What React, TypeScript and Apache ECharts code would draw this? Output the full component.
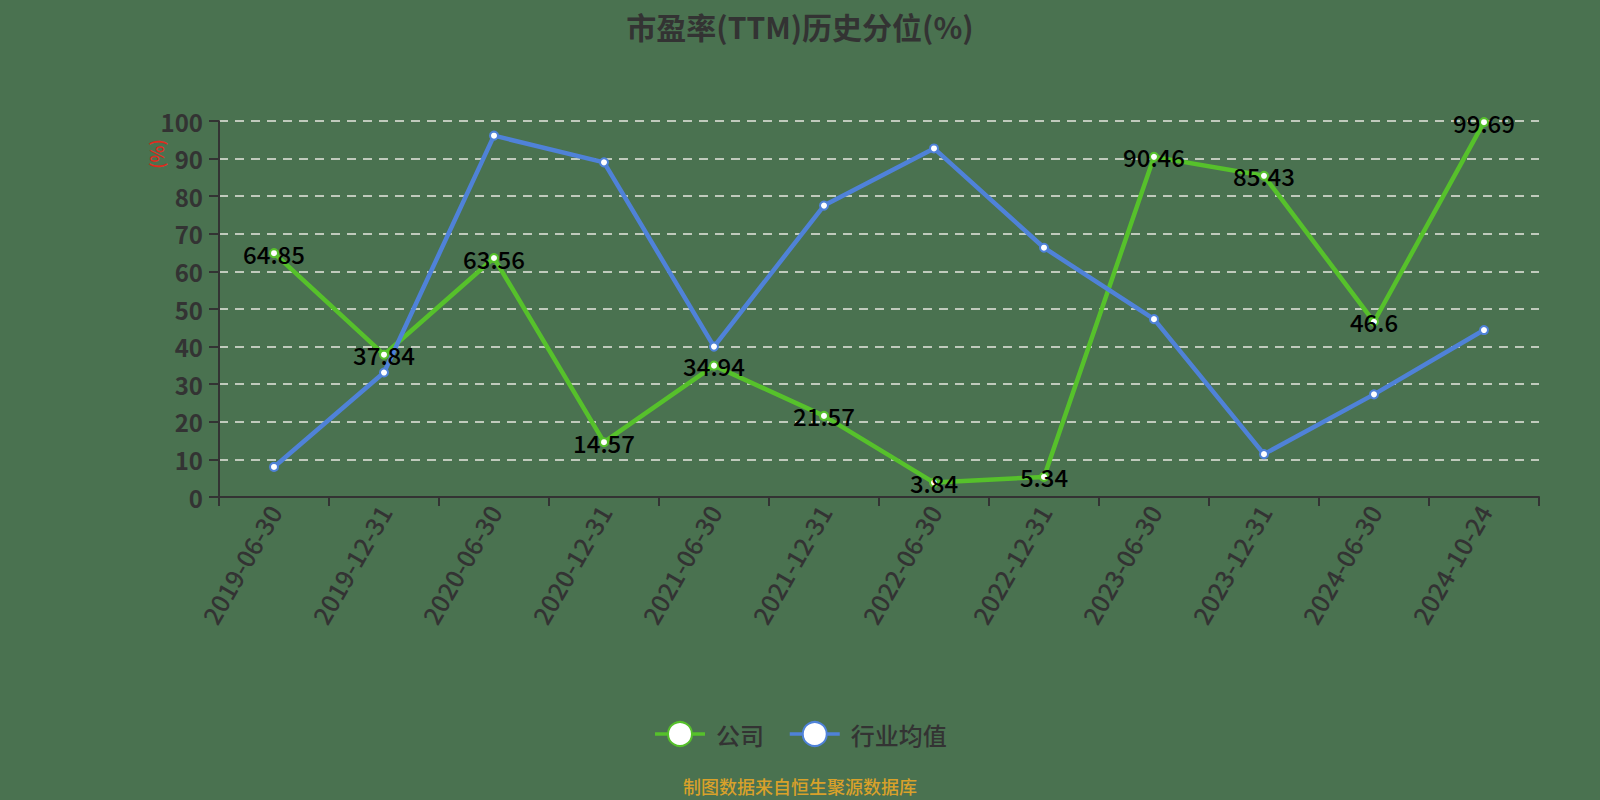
import { useEffect, useRef } from "react";
import * as echarts from "echarts";

const CATEGORIES = [
  "2019-06-30",
  "2019-12-31",
  "2020-06-30",
  "2020-12-31",
  "2021-06-30",
  "2021-12-31",
  "2022-06-30",
  "2022-12-31",
  "2023-06-30",
  "2023-12-31",
  "2024-06-30",
  "2024-10-24"
];

const COMPANY = [64.85, 37.84, 63.56, 14.57, 34.94, 21.57, 3.84, 5.34, 90.46, 85.43, 46.6, 99.69];
const INDUSTRY = [8.0, 33.1, 96.1, 89.0, 40.0, 77.5, 92.7, 66.3, 47.3, 11.4, 27.3, 44.4];

const SERIES_NAMES = ["公司", "行业均值"];
const TITLE = "市盈率(TTM)历史分位(%)";
const SOURCE = "制图数据来自恒生聚源数据库";
const Y_NAME = "(%)";

const BG = "#4a7250";
const GREEN = "#56c12b";
const BLUE = "#4f82d8";
const DARK = "#333333";
const FONT = "'Noto Sans CJK SC', 'Noto Sans', sans-serif";

function buildOption() {
  const line = (name: string, data: number[], color: string, withLabel: boolean) => ({
    name,
    type: "line",
    data,
    symbol: "emptyCircle",
    symbolSize: 8,
    lineStyle: { color, width: 4.5 },
    itemStyle: { color, borderWidth: 2 },
    label: withLabel
      ? {
          show: true,
          position: "inside",
          color: "#000",
          fontSize: 24,
          fontWeight: 500,
          fontFamily: FONT
        }
      : { show: false }
  });

  return {
    animation: false,
    backgroundColor: BG,
    textStyle: { fontFamily: FONT },
    title: [
      {
        text: TITLE,
        left: "center",
        top: 6,
        textStyle: { color: DARK, fontSize: 30, fontWeight: "bold", fontFamily: FONT }
      },
      {
        text: SOURCE,
        left: "center",
        top: 772,
        textStyle: { color: "#d9a12a", fontSize: 18, fontWeight: 500, fontFamily: FONT }
      }
    ],
    legend: {
      data: SERIES_NAMES,
      left: "center",
      top: 716,
      itemWidth: 50,
      itemHeight: 30,
      itemGap: 24,
      lineStyle: { width: 3.5 },
      itemStyle: { borderWidth: 3 },
      textStyle: {
        color: DARK,
        fontSize: 24,
        fontWeight: 500,
        fontFamily: FONT,
        padding: [0, 0, 0, 6]
      }
    },
    graphic: [
      {
        type: "text",
        x: 156,
        y: 154,
        rotation: Math.PI / 2,
        style: {
          text: Y_NAME,
          fill: "#e02a1e",
          fontSize: 18,
          fontWeight: 500,
          fontFamily: FONT,
          align: "center",
          verticalAlign: "middle"
        }
      }
    ],
    grid: { left: 219, right: 61, top: 121, bottom: 303, containLabel: false },
    xAxis: {
      type: "category",
      data: CATEGORIES,
      boundaryGap: true,
      axisLine: { lineStyle: { color: DARK, width: 2 } },
      axisTick: { show: true, length: 9, lineStyle: { color: DARK, width: 2 } },
      axisLabel: {
        rotate: 60,
        color: DARK,
        fontSize: 25,
        fontWeight: 500,
        margin: 10,
        interval: 0,
        fontFamily: FONT
      }
    },
    yAxis: {
      type: "value",
      min: 0,
      max: 100,
      interval: 10,
      axisLine: { show: true, lineStyle: { color: DARK, width: 2 } },
      axisTick: { show: true, length: 10, lineStyle: { color: DARK, width: 2 } },
      axisLabel: { color: DARK, fontSize: 24, fontWeight: "bold", margin: 16, fontFamily: FONT },
      splitLine: {
        show: true,
        lineStyle: { color: "#e8e8e0", width: 1.5, type: [9, 7] }
      }
    },
    series: [
      line(SERIES_NAMES[0], COMPANY, GREEN, true),
      line(SERIES_NAMES[1], INDUSTRY, BLUE, false)
    ]
  };
}

export default function App() {
  const hostRef = useRef<HTMLDivElement>(null);

  useEffect(() => {
    document.body.style.margin = "0";
    const host = hostRef.current;
    if (host === null) return;
    const chart = echarts.init(host, undefined, { renderer: "svg" });
    chart.setOption(buildOption());
    return () => {
      chart.dispose();
    };
  }, []);

  return <div ref={hostRef} style={{ width: 1600, height: 800 }} />;
}
